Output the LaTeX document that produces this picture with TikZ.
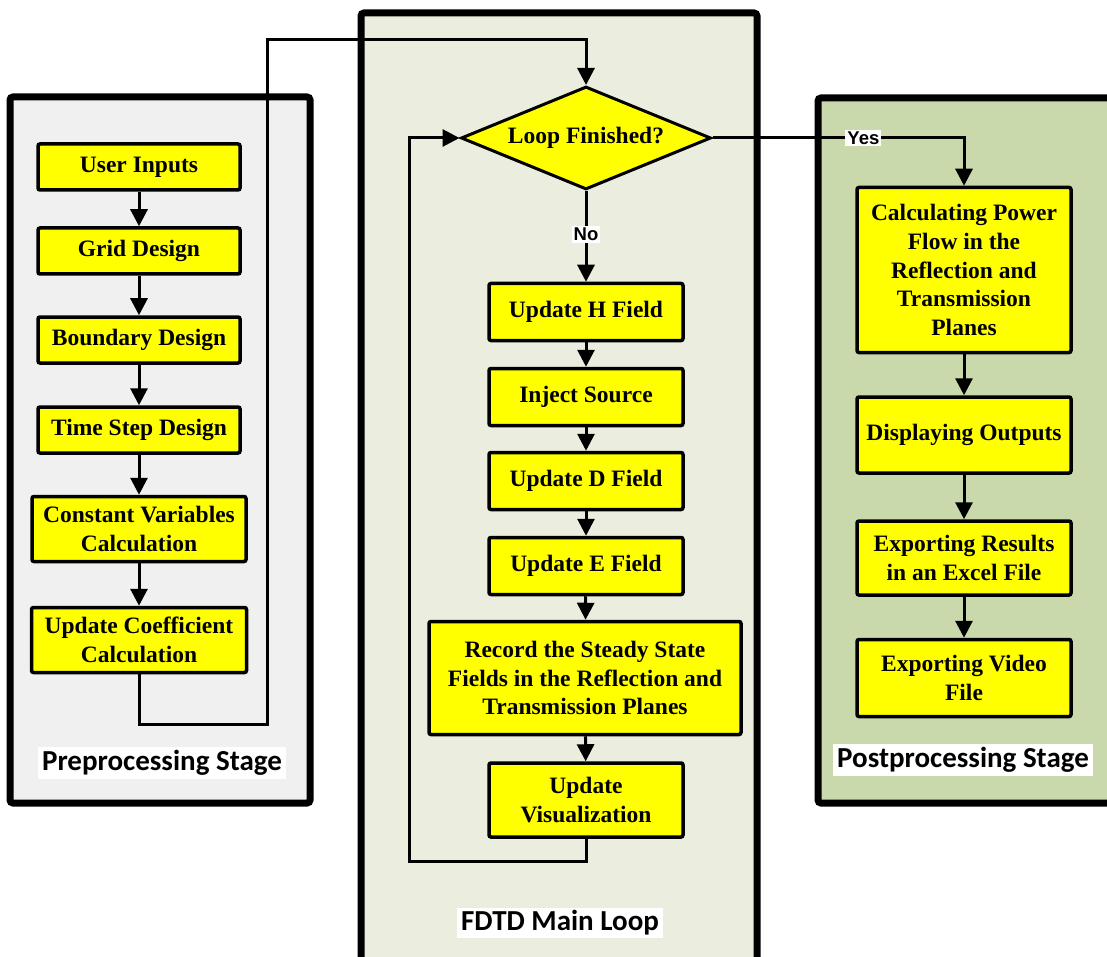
\documentclass[tikz,border=0pt]{standalone}
\usepackage{fontspec}
\setmainfont{Liberation Serif}
\newfontfamily\labelfont{Carlito}
\newfontfamily\tagfont{Liberation Sans}
\usetikzlibrary{arrows.meta,shapes.geometric}

\definecolor{prebg}{RGB}{240,240,240}
\definecolor{loopbg}{RGB}{235,237,222}
\definecolor{postbg}{RGB}{202,217,171}
\definecolor{boxyellow}{RGB}{255,255,0}

\tikzset{
  panel/.style={draw=black, line width=7pt, rounded corners=3pt},
  stepbox/.style={draw=black, fill=boxyellow, line width=3.5pt, rounded corners=2pt,
    align=center, inner sep=0pt, font=\fontsize{23.5}{28.7}\selectfont\bfseries},
  decision/.style={diamond, draw=black, fill=boxyellow, line width=3pt, aspect=2.43,
    minimum width=250pt, minimum height=103pt, inner sep=0pt,
    font=\fontsize{23.5}{28.7}\selectfont\bfseries},
  flow/.style={draw=black, line width=3pt, -{Triangle[width=17pt,length=17pt]}},
  stagelabel/.style={fill=white, inner xsep=4pt, inner ysep=3pt,
    font=\labelfont\fontsize{29}{32}\selectfont\bfseries},
  tag/.style={fill=white, inner sep=2pt, font=\tagfont\fontsize{18.5}{20}\selectfont\bfseries}
}

\begin{document}
\begin{tikzpicture}[x=1pt, y=-1pt]
\useasboundingbox (0,0) rectangle (1107,957);

% stage panels
\filldraw[panel, fill=prebg] (10,97) rectangle (310,803);
\filldraw[panel, fill=loopbg] (361,13) rectangle (757,980);
\filldraw[panel, fill=postbg] (818,98) rectangle (1120,803);

% preprocessing stage
\node[stepbox, minimum width=202pt, minimum height=46pt] (ui) at (139,167) {User Inputs};
\node[stepbox, minimum width=202pt, minimum height=46pt] (gd) at (139,251) {Grid Design};
\node[stepbox, minimum width=202pt, minimum height=46pt] (bd) at (139,340) {Boundary Design};
\node[stepbox, minimum width=202pt, minimum height=46pt] (ts) at (139,430) {Time Step Design};
\node[stepbox, minimum width=214pt, minimum height=65pt] (cv) at (139,529) {Constant Variables\\Calculation};
\node[stepbox, minimum width=215pt, minimum height=65pt] (uc) at (139,640) {Update Coefficient\\Calculation};

% main loop
\node[decision] (lf) at (586,138) {Loop Finished?};
\node[stepbox, minimum width=194pt, minimum height=57pt] (uh) at (586,312) {Update H Field};
\node[stepbox, minimum width=194pt, minimum height=57pt] (is) at (586,397) {Inject Source};
\node[stepbox, minimum width=194pt, minimum height=57pt] (ud) at (586,481) {Update D Field};
\node[stepbox, minimum width=194pt, minimum height=57pt] (ue) at (586,566) {Update E Field};
\node[stepbox, minimum width=312pt, minimum height=113pt] (rec) at (585,678)
  {Record the Steady State\\Fields in the Reflection and\\Transmission Planes};
\node[stepbox, minimum width=194pt, minimum height=74pt] (uv) at (586,800) {Update\\Visualization};

% postprocessing stage
\node[stepbox, minimum width=214pt, minimum height=165pt] (cp) at (964,270)
  {Calculating Power\\Flow in the\\Reflection and\\Transmission\\Planes};
\node[stepbox, minimum width=214pt, minimum height=76pt] (dout) at (964,435) {Displaying Outputs};
\node[stepbox, minimum width=214pt, minimum height=74pt] (er) at (964,558) {Exporting Results\\in an Excel File};
\node[stepbox, minimum width=214pt, minimum height=77pt] (ev) at (964,678) {Exporting Video\\File};

% stage titles
\node[stagelabel] (preT) at (162,763) {Preprocessing Stage};
\node[stagelabel] (loopT) at (560,923) {FDTD Main Loop};
\node[stagelabel] (postT) at (963,760) {Postprocessing Stage};

% routing points
\coordinate (c1) at (139,724);
\coordinate (c2) at (267,724);
\coordinate (c3) at (267,40);
\coordinate (c4) at (586,40);
\coordinate (d1) at (586,861);
\coordinate (d2) at (409,861);
\coordinate (d3) at (409,138);
\coordinate (y1) at (964,138);

% preprocessing chain
\draw[flow] (ui) -- (gd);
\draw[flow] (gd) -- (bd);
\draw[flow] (bd) -- (ts);
\draw[flow] (ts) -- (cv);
\draw[flow] (cv) -- (uc);
\draw[flow] (uc.south) -- (c1) -- (c2) -- (c3) -- (c4) -- (lf.north);

% loop body
\draw[flow] (lf.south) -- node[tag, pos=0.48] (no) {No} (uh.north);
\draw[flow] (uh) -- (is);
\draw[flow] (is) -- (ud);
\draw[flow] (ud) -- (ue);
\draw[flow] (ue) -- (rec);
\draw[flow] (rec) -- (uv);
\draw[flow] (uv.south) -- (d1) -- (d2) -- (d3) -- (lf.west);

% exit branch
\draw[flow] (lf.east) -- node[tag, pos=0.6] (yes) {Yes} (y1) -- (cp.north);
\draw[flow] (cp) -- (dout);
\draw[flow] (dout) -- (er);
\draw[flow] (er) -- (ev);
\end{tikzpicture}
\end{document}
